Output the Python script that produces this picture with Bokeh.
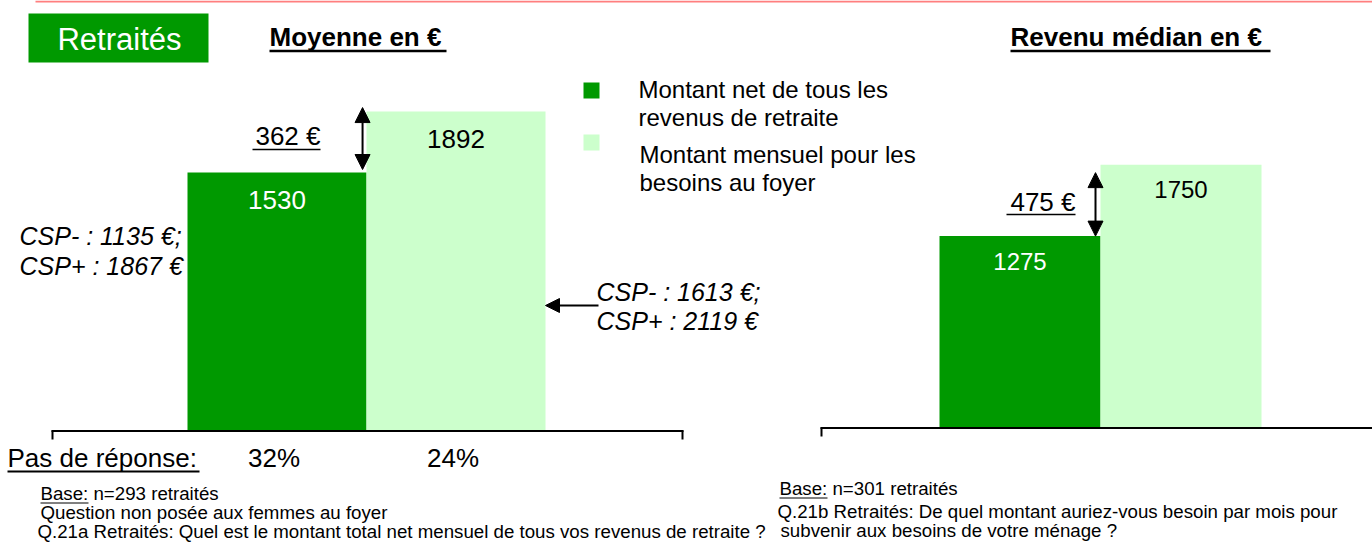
from bokeh.plotting import figure
from bokeh.models import Range1d, Arrow, NormalHead
from bokeh.core.properties import value
from bokeh.embed import file_html
from bokeh.resources import INLINE

# ---------------- data ----------------
group_label = "Retraités"
panel_titles = ["Moyenne en €", "Revenu médian en €"]
legend_lines = [["Montant net de tous les", "revenus de retraite"],
                ["Montant mensuel pour les", "besoins au foyer"]]
mean_values = [1530, 1892]
median_values = [1275, 1750]
no_answer_label = "Pas de réponse:"
no_answer = ["32%", "24%"]
csp_net = ["CSP- : 1135 €;", "CSP+ : 1867 €"]
csp_need = ["CSP- : 1613 €;", "CSP+ : 2119 €"]
notes_left = ["Base: n=293 retraités",
              "Question non posée aux femmes au foyer",
              " Q.21a Retraités: Quel est le montant total net mensuel de tous vos revenus de retraite ?"]
notes_right = ["Base: n=301 retraités",
               " Q.21b Retraités: De quel montant auriez-vous besoin par mois pour",
               "subvenir aux besoins de votre ménage ?"]

# ---------------- style ----------------
COLORS = ["#009900", "#ccffcc"]
LABEL_COLORS = ["white", "black"]
FONT = value("Liberation Sans")
W, H = 1372, 542

# layout parameters (pixels)
L_BASE, L_SCALE, L_C0, L_UNIT = 429.5, 0.1683, 276.5, 179.0
R_BASE, R_SCALE, R_C0, R_UNIT = 427.5, 0.1505, 1019.5, 161.0


def value_range(base, scale):
    return Range1d((base - H) / scale, base / scale)


def cat_range(c0, unit):
    return Range1d(-c0 / unit, (W - c0) / unit)


def ctr(baseline, size):
    # vertical centre of a text line from its baseline
    return baseline - 0.35 * size


p = figure(width=W, height=H, x_range=Range1d(0, W), y_range=Range1d(H, 0),
           output_backend="svg", toolbar_location=None, min_border=0,
           x_axis_location=None, y_axis_location=None, outline_line_color=None)
p.grid.visible = False
p.background_fill_color = "white"
p.border_fill_color = "white"
p.extra_x_ranges = {"lx": cat_range(L_C0, L_UNIT), "rx": cat_range(R_C0, R_UNIT)}
p.extra_y_ranges = {"ly": value_range(L_BASE, L_SCALE), "ry": value_range(R_BASE, R_SCALE)}

idx = list(range(len(mean_values)))
TXT = dict(text_font=FONT, text_baseline="middle")

# top red rule
p.segment(x0=[35], y0=[1], x1=[W], y1=[1], line_color="#ff7f7f", line_width=2)

# group label box
p.quad(left=[28], right=[208], top=[13], bottom=[62], fill_color=COLORS[0], line_color=None)
p.text(x=[119], y=[ctr(50, 31)], text=[group_label], text_font_size="31px",
       text_color="white", text_align="center", **TXT)

# panel titles
title_x = [269, 1010]
title_w = [177, 260]
for tx, tw, tt in zip(title_x, title_w, panel_titles):
    p.text(x=[tx], y=[ctr(46, 26)], text=[tt], text_font_size="26px",
           text_font_style="bold", **TXT)
    p.segment(x0=[tx], y0=[50.5], x1=[tx + tw], y1=[50.5], line_color="black", line_width=2.5)

# legend
leg_top = [82, 134]
leg_base = [[97, 125], [162, 190]]
for i in range(2):
    p.quad(left=[583], right=[599], top=[leg_top[i]], bottom=[leg_top[i] + 16],
           fill_color=COLORS[i], line_color=None)
    p.text(x=[638 + i, 638 + i], y=[ctr(b, 24) for b in leg_base[i]], text=legend_lines[i],
           text_font_size="24px", **TXT)

# bars
p.vbar(x=idx, top=mean_values, bottom=0, width=1, fill_color=COLORS, line_color=None,
       x_range_name="lx", y_range_name="ly")
p.vbar(x=idx, top=median_values, bottom=0, width=1, fill_color=COLORS, line_color=None,
       x_range_name="rx", y_range_name="ry")

# value labels
p.text(x=idx, y=mean_values, text=[str(v) for v in mean_values], text_color=LABEL_COLORS,
       text_font_size="26px", text_align="center", y_offset=27,
       x_range_name="lx", y_range_name="ly", **TXT)
p.text(x=idx, y=median_values, text=[str(v) for v in median_values], text_color=LABEL_COLORS,
       text_font_size="24px", text_align="center", y_offset=25,
       x_range_name="rx", y_range_name="ry", **TXT)


def head():
    return NormalHead(size=15, fill_color="black", line_color="black")


# difference arrows (between the two bar tops)
p.add_layout(Arrow(start=head(), end=head(),
                   x_start=0.478, y_start=mean_values[0] + 3 / L_SCALE,
                   x_end=0.478, y_end=mean_values[1] + 4 / L_SCALE,
                   line_width=2, x_range_name="lx", y_range_name="ly"))
p.add_layout(Arrow(start=head(), end=head(),
                   x_start=0.469, y_start=median_values[0],
                   x_end=0.469, y_end=median_values[1] - 8 / R_SCALE,
                   line_width=2, x_range_name="rx", y_range_name="ry"))

# difference labels
p.text(x=[320], y=[ctr(145, 26)], text=[f"{mean_values[1] - mean_values[0]} €"],
       text_font_size="26px", text_align="right", **TXT)
p.segment(x0=[252], y0=[149], x1=[320], y1=[149], line_color="black", line_width=1.5)
p.text(x=[1075], y=[ctr(211, 26)], text=[f"{median_values[1] - median_values[0]} €"],
       text_font_size="26px", text_align="right", **TXT)
p.segment(x0=[1006], y0=[214], x1=[1075], y1=[214], line_color="black", line_width=1.5)

# CSP annotations
p.text(x=[19, 19], y=[ctr(244, 25), ctr(274, 25)], text=csp_net, text_font_size="25px",
       text_font_style="italic", **TXT)
p.text(x=[596, 596], y=[ctr(300, 25), ctr(329, 25)], text=csp_need, text_font_size="25px",
       text_font_style="italic", **TXT)
p.add_layout(Arrow(end=NormalHead(size=14, fill_color="black", line_color="black"),
                   x_start=598, y_start=305, x_end=545, y_end=305, line_width=2))

# category axes
p.segment(x0=[51], y0=[430.5], x1=[683], y1=[430.5], line_color="black", line_width=2)
p.segment(x0=[52, 682], y0=[430, 430], x1=[52, 682], y1=[439, 439], line_color="black", line_width=2)
p.segment(x0=[820], y0=[427.5], x1=[W], y1=[427.5], line_color="black", line_width=2)
p.segment(x0=[821], y0=[427], x1=[821], y1=[436], line_color="black", line_width=2)

# no-answer row
p.text(x=[7], y=[ctr(467, 26)], text=[no_answer_label], text_font_size="26px", **TXT)
p.segment(x0=[7], y0=[471], x1=[199], y1=[471], line_color="black", line_width=2)
p.text(x=idx, y=[ctr(467, 26)] * 2, text=no_answer, text_font_size="26px",
       text_align="center", x_offset=-3, x_range_name="lx", **TXT)

# footnotes
NOTE = 18.7
p.text(x=[40, 40, 37], y=[ctr(b, NOTE) for b in (500, 519, 538)], text=notes_left,
       text_font_size=f"{NOTE}px", **TXT)
p.segment(x0=[40], y0=[502.5], x1=[88], y1=[502.5], line_color="black", line_width=1)
p.text(x=[779, 777, 780], y=[ctr(b, NOTE) for b in (495, 518, 537)], text=notes_right,
       text_font_size=f"{NOTE}px", **TXT)
p.segment(x0=[779], y0=[497.5], x1=[827], y1=[497.5], line_color="black", line_width=1)

open("out.html", "w").write(file_html(p, INLINE))
